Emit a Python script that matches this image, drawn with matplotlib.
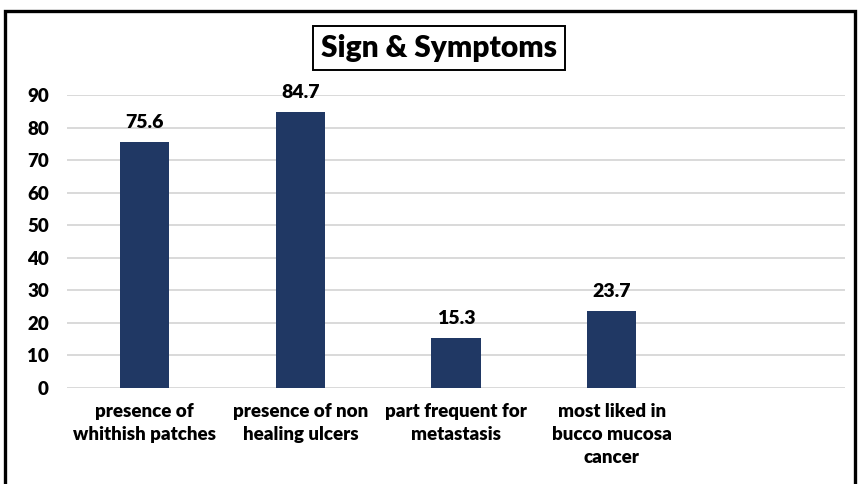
import matplotlib
matplotlib.use("Agg")
import matplotlib.pyplot as plt
from matplotlib.patches import Rectangle

categories = ["presence of\nwhithish patches", "presence of non\nhealing ulcers",
              "part frequent for\nmetastasis", "most liked in\nbucco mucosa\ncancer", ""]
values = [75.6, 84.7, 15.3, 23.7]
yticks = [0, 10, 20, 30, 40, 50, 60, 70, 80, 90]
title = "Sign & Symptoms"

plt.rcParams['font.family'] = ['Lato', 'DejaVu Sans']
W = "heavy"
fig = plt.figure(figsize=(8.6, 4.84), dpi=100)
ax = fig.add_axes([67/860, 1-388/484, 778/860, (388-95)/484])

x = list(range(len(categories)))
bars = ax.bar(x[:len(values)], values, width=0.315, color="#203864", zorder=3)
for b, v in zip(bars, values):
    ax.annotate(f"{v}", (b.get_x()+b.get_width()/2, v), xytext=(0, 10),
                textcoords="offset points", ha="center", va="baseline",
                fontsize=14, fontweight=W, color="black")

ax.set_xlim(-0.5, len(categories)-0.5)
ax.set_ylim(0, 90)
ax.set_yticks(yticks)
ax.set_yticklabels([str(t) for t in yticks], fontsize=13.5, fontweight=W)
ax.set_xticks(x)
ax.set_xticklabels(categories, fontsize=13.5, fontweight=W, linespacing=1.42)
ax.tick_params(axis="both", length=0)
ax.tick_params(axis="y", pad=13)
ax.tick_params(axis="x", pad=11)
ax.grid(axis="y", color="#d9d9d9", linewidth=1.4, zorder=0)
for s in ax.spines.values():
    s.set_visible(False)

fig.text(439/860, 1-48/484, title, ha="center", va="center", fontsize=21.5, fontweight=W,
         bbox=dict(boxstyle="square,pad=0.28", facecolor="white", edgecolor="black", linewidth=1.4))

fig.patches.append(Rectangle((5/860, -0.05), 850/860, 1-11/484+0.05, transform=fig.transFigure,
                             fill=False, edgecolor="black", linewidth=2.4))

fig.savefig("out.png", dpi=100)
